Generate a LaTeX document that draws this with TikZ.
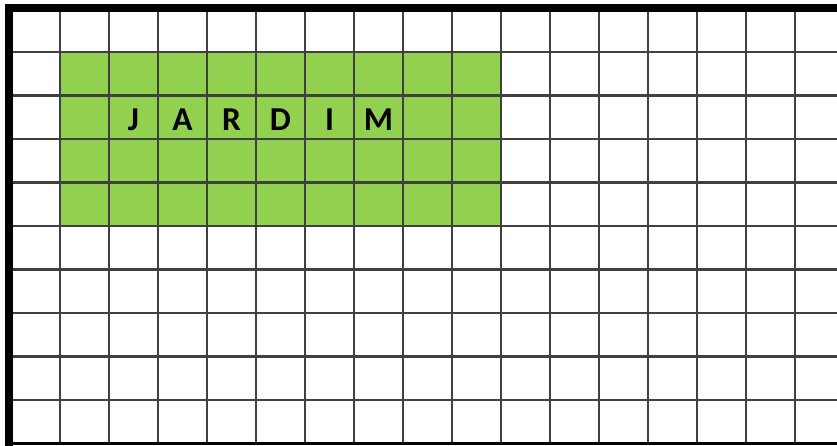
\documentclass[tikz,border=0pt]{standalone}
\usepackage{fontspec}
\newfontfamily\gardenfont{Carlito}
\definecolor{gardengreen}{HTML}{92D050}

\begin{document}
\begin{tikzpicture}[x=0.49cm, y=-0.435cm,
    gridline/.style={line width=0.6pt, draw=black!75},
    border/.style={line width=2.1pt, draw=black},
    baseline/.style={line width=0.9pt, draw=black},
    letter/.style={font=\gardenfont\bfseries\fontsize{9.5}{11}\selectfont,
                   inner sep=0pt, anchor=center},
  ]
    \useasboundingbox (-0.2245,-0.195) rectangle (16.857,10.057);

    % garden area
    \fill[gardengreen] (1,1) rectangle (10,5);

    % grid
    \foreach \c in {1,...,16}
      \draw[gridline] (\c,0) -- (\c,10);
    \foreach \r in {1,...,9}
      \draw[gridline] (0,\r) -- (16.857,\r);

    % frame
    \draw[baseline] (0,10) -- (16.857,10);
    \draw[border] (-0.04,10.057) -- (-0.04,-0.01) -- (16.857,-0.01);

    % label
    \foreach \l [count=\i from 0] in {J,A,R,D,I,M}
      \node[letter] (letter-\i) at (2.5+\i,2.55) {\l};
  \end{tikzpicture}
\end{document}
